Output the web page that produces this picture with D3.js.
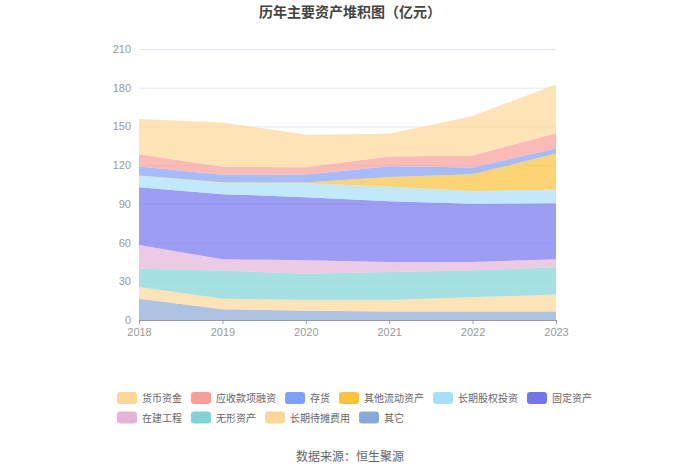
<!DOCTYPE html>
<html>
<head>
<meta charset="utf-8">
<script src="https://cdn.jsdelivr.net/npm/d3@7"></script>
<style>
  body { margin: 0; background: #fff; }
  svg { font-family: "Noto Sans CJK SC", "Noto Sans", sans-serif; }
</style>
</head>
<body>
<div id="container"></div>
<script>
// years on the x axis
const years = ["2018", "2019", "2020", "2021", "2022", "2023"];

// series, bottom of the stack first (亿元)
const other      = [16.5, 8.3, 7.2, 6.5, 6.5, 6.5];
const prepaid    = [9.1, 8.2, 8.3, 9.0, 11.1, 13.2];
const intangible = [14.2, 21.8, 20.4, 21.7, 20.9, 21.2];
const construct  = [18.4, 8.8, 10.4, 7.8, 6.5, 6.2];
const fixed      = [44.7, 50.4, 48.9, 47.1, 45.0, 43.4];
const equityInv  = [8.8, 8.8, 10.8, 11.1, 9.8, 10.4];
const otherCur   = [0.3, 0.5, 0.5, 7.7, 13.2, 28.1];
const inventory  = [7.0, 5.7, 6.2, 8.3, 5.2, 3.9];
const receivable = [9.5, 6.2, 5.7, 7.5, 9.3, 11.9];
const cash       = [27.2, 34.4, 25.1, 17.6, 30.5, 37.8];

const yTicks = [0, 30, 60, 90, 120, 150, 180, 210];

// legend order
const series = [
  { name: "货币资金", values: cash, color: "#fdd797" },
  { name: "应收款项融资", values: receivable, color: "#f89e97" },
  { name: "存货", values: inventory, color: "#80a0f8" },
  { name: "其他流动资产", values: otherCur, color: "#fcc238" },
  { name: "长期股权投资", values: equityInv, color: "#a6dffa" },
  { name: "固定资产", values: fixed, color: "#7474ee" },
  { name: "在建工程", values: construct, color: "#e6b4d8" },
  { name: "无形资产", values: intangible, color: "#80d4d6" },
  { name: "长期待摊费用", values: prepaid, color: "#fdd797" },
  { name: "其它", values: other, color: "#8aa9d9" }
];

const width = 700, height = 474;
const margin = { top: 49, right: 144, bottom: 154, left: 139 };

const rows = years.map((y, i) => {
  const r = { year: y };
  series.forEach(s => { r[s.name] = s.values[i]; });
  return r;
});

const stackKeys = series.map(s => s.name).reverse();
const stacked = d3.stack().keys(stackKeys)(rows);
const colorOf = new Map(series.map(s => [s.name, s.color]));

const x = d3.scalePoint(years, [margin.left, width - margin.right]);
const y = d3.scaleLinear([0, 210], [height - margin.bottom, margin.top]);

const svg = d3.select("#container").append("svg")
  .attr("width", width)
  .attr("height", height)
  .attr("viewBox", [0, 0, width, height]);

svg.append("text")
  .attr("x", width / 2)
  .attr("y", 17)
  .attr("text-anchor", "middle")
  .attr("font-size", 14)
  .attr("font-weight", "bold")
  .attr("fill", "#444")
  .text("历年主要资产堆积图（亿元）");

// grid
svg.append("g")
  .call(d3.axisLeft(y).tickValues(yTicks).tickSize(-(width - margin.left - margin.right)).tickPadding(8))
  .attr("transform", `translate(${margin.left},0)`)
  .call(g => g.select(".domain").remove())
  .call(g => g.selectAll(".tick line").attr("stroke", "#e3e7f3"))
  .call(g => g.selectAll(".tick text").attr("fill", "#999").attr("font-size", 11));

const area = d3.area()
  .x(d => x(d.data.year))
  .y0(d => y(d[0]))
  .y1(d => y(d[1]));

svg.append("g")
  .selectAll("path")
  .data(stacked)
  .join("path")
  .attr("d", area)
  .attr("fill", d => colorOf.get(d.key))
  .attr("fill-opacity", 0.7);

svg.append("g")
  .attr("transform", `translate(0,${height - margin.bottom})`)
  .call(d3.axisBottom(x).tickSize(4).tickPadding(4))
  .call(g => g.select(".domain").attr("stroke", "#999"))
  .call(g => g.selectAll(".tick line").attr("stroke", "#999"))
  .call(g => g.selectAll(".tick text").attr("fill", "#999").attr("font-size", 11));

// legend
const legendRows = [series.slice(0, 6), series.slice(6)];
legendRows.forEach((row, ri) => {
  let lx = 117;
  const ly = 392 + ri * 19.5;
  row.forEach(s => {
    const g = svg.append("g").attr("transform", `translate(${lx},${ly})`);
    g.append("rect")
      .attr("width", 20).attr("height", 12).attr("rx", 3)
      .attr("fill", s.color);
    const t = g.append("text")
      .attr("x", 25).attr("y", 10)
      .attr("font-size", 10)
      .attr("fill", "#666")
      .text(s.name);
    lx += 25 + t.node().getComputedTextLength() + 9;
  });
});

svg.append("text")
  .attr("x", width / 2)
  .attr("y", 461)
  .attr("text-anchor", "middle")
  .attr("font-size", 12)
  .attr("fill", "#666")
  .text("数据来源：恒生聚源");
</script>
</body>
</html>
